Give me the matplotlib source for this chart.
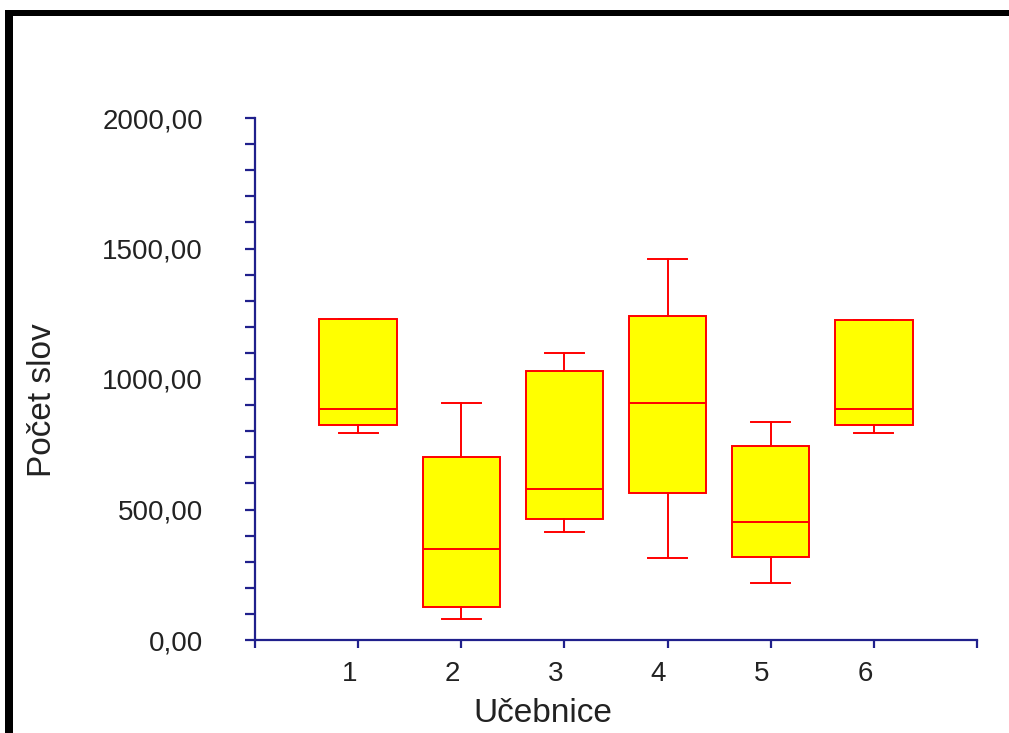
import matplotlib
matplotlib.use("Agg")
import matplotlib.pyplot as plt
from matplotlib.patches import Rectangle
from matplotlib.ticker import MultipleLocator, FixedLocator
from matplotlib.transforms import ScaledTranslation

plt.rcParams['font.family'] = ['Liberation Sans', 'DejaVu Sans']

categories = ["1", "2", "3", "4", "5", "6"]
whislo = [793, 80, 415, 315, 220, 792]
q1 = [824, 126, 462, 562, 317, 824]
med = [885, 349, 577, 907, 453, 884]
q3 = [1230, 701, 1030, 1243, 745, 1227]
whishi = [1230, 908, 1099, 1459, 837, 1227]
y_ticks = [0, 500, 1000, 1500, 2000]
y_tick_labels = ["0,00", "500,00", "1000,00", "1500,00", "2000,00"]

W, H = 1009, 733
fig = plt.figure(figsize=(W / 100, H / 100), dpi=100)
ax = fig.add_axes([255 / W, (H - 640) / H, (977 - 255) / W, (640 - 118) / H])

stats = []
for i, c in enumerate(categories):
    stats.append(dict(label=c, whislo=whislo[i], q1=q1[i], med=med[i],
                      q3=q3[i], whishi=whishi[i], fliers=[]))

red = "#ff0000"
ax.bxp(stats, positions=range(1, len(categories) + 1), widths=0.75,
       patch_artist=True, showfliers=False,
       boxprops=dict(facecolor="#ffff00", edgecolor=red, linewidth=1.4),
       medianprops=dict(color=red, linewidth=1.4),
       whiskerprops=dict(color=red, linewidth=1.4),
       capprops=dict(color=red, linewidth=1.4),
       capwidths=0.38)

ax.set_xlim(0, 7)
ax.set_ylim(0, 2000)

navy = "#20208c"
for s in ["top", "right"]:
    ax.spines[s].set_visible(False)
for s in ["left", "bottom"]:
    ax.spines[s].set_color(navy)
    ax.spines[s].set_linewidth(1.6)

ax.yaxis.set_major_locator(FixedLocator(y_ticks))
ax.set_yticklabels(y_tick_labels)
ax.yaxis.set_minor_locator(MultipleLocator(100))
ax.xaxis.set_major_locator(FixedLocator(range(0, 8)))
ax.set_xticklabels([""] + categories + [""])

ax.tick_params(axis="y", which="both", direction="out", length=7.5, width=1.6,
               color=navy, labelsize=20, pad=30, labelcolor="#222222")
ax.tick_params(axis="x", which="both", direction="out", length=6, width=1.6,
               color=navy, labelsize=20, pad=9, labelcolor="#222222")
shift = ScaledTranslation(-9 / 100, 0, fig.dpi_scale_trans)
for lbl in ax.get_xticklabels():
    lbl.set_horizontalalignment("center")
    lbl.set_transform(lbl.get_transform() + shift)

fig.text(43 / W, 1 - 400 / H, "Počet slov", rotation=90, ha="center", va="center",
         fontsize=24, color="#222222")
fig.text(543 / W, 1 - 714 / H, "Učebnice", ha="center", va="center",
         fontsize=24, color="#222222")

# black frame (top and left)
fig.patches.append(Rectangle((5 / W, 0), 8 / W, 1 - 10 / H, transform=fig.transFigure,
                             facecolor="black", edgecolor="none"))
fig.patches.append(Rectangle((5 / W, 1 - 16 / H), 1, 6 / H, transform=fig.transFigure,
                             facecolor="black", edgecolor="none"))

fig.savefig("out.png", dpi=100)
